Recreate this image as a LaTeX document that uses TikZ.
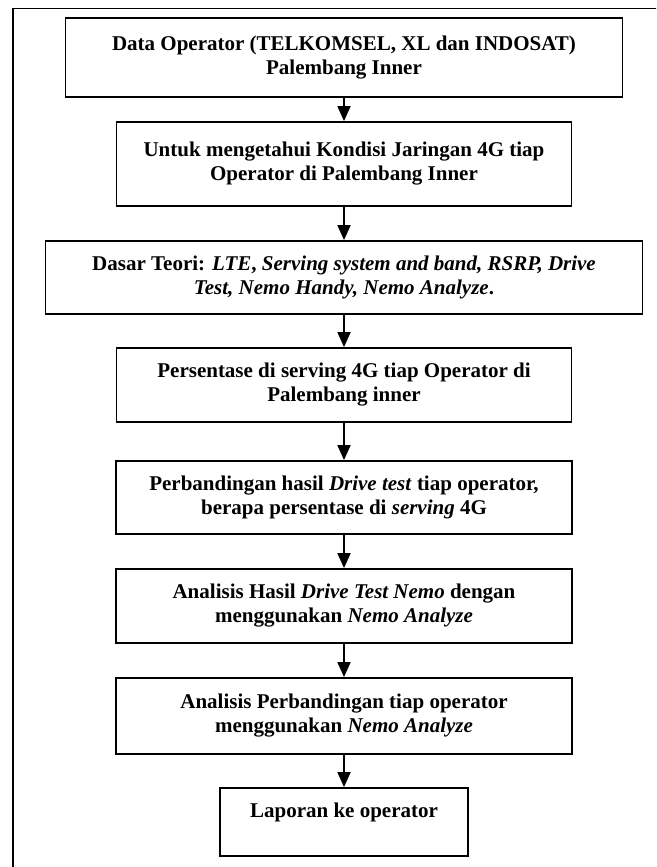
\documentclass[tikz,border=0pt]{standalone}
\usepackage{fontspec}
\setmainfont{Liberation Serif}
\usetikzlibrary{arrows.meta, positioning}

\begin{document}
\begin{tikzpicture}[x=1pt, y=-1pt, >={Triangle[length=15pt,width=13pt]}, line width=1.8pt,
		box/.style={draw, rectangle, align=center, inner sep=0pt, font=\fontsize{21}{24}\selectfont\bfseries}]
		\clip (0,0) rectangle (656,867);
		\draw (13,8.5) rectangle (700,900);

		\node[box, minimum width=557pt, minimum height=79pt] (data) at (344,57.5) {Data Operator (TELKOMSEL, XL dan INDOSAT)\\ Palembang Inner};
		\node[box, minimum width=455pt, minimum height=84pt] (kondisi) at (344,164) {Untuk mengetahui Kondisi Jaringan 4G tiap\\ Operator di Palembang Inner};
		\node[box, minimum width=597pt, minimum height=73pt] (teori) at (344,277.5) {Dasar Teori: \textit{LTE}, \textit{Serving system and band, RSRP, Drive}\\ \textit{Test, Nemo Handy, Nemo Analyze}.};
		\node[box, minimum width=455pt, minimum height=74pt] (persen) at (344,385) {Persentase di serving 4G tiap Operator di\\ Palembang inner};
		\node[box, minimum width=456pt, minimum height=73pt] (banding) at (344,497.5) {Perbandingan hasil \textit{Drive test} tiap operator,\\ berapa persentase di \textit{serving} 4G};
		\node[box, minimum width=456pt, minimum height=74pt] (hasil) at (344,606) {Analisis Hasil \textit{Drive Test Nemo} dengan\\ menggunakan \textit{Nemo Analyze}};
		\node[box, minimum width=456pt, minimum height=76pt] (analisis) at (344,716) {Analisis Perbandingan tiap operator\\ menggunakan \textit{Nemo Analyze}};
		\node[box, minimum width=248pt, minimum height=68pt] (laporan) at (344,822) {Laporan ke operator\\ \mbox{}};

		\draw[->] (data) -- (kondisi);
		\draw[->] (kondisi) -- (teori);
		\draw[->] (teori) -- (persen);
		\draw[->] (persen) -- (banding);
		\draw[->] (banding) -- (hasil);
		\draw[->] (hasil) -- (analisis);
		\draw[->] (analisis) -- (laporan);

	\end{tikzpicture}
\end{document}
